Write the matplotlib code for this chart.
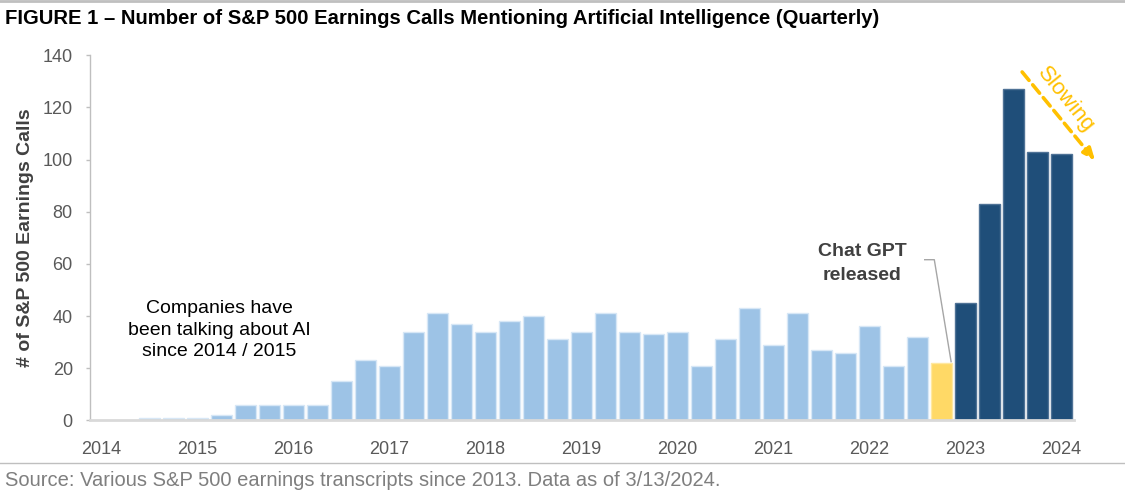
import matplotlib
matplotlib.use("Agg")
import matplotlib.pyplot as plt
import numpy as np

# Quarterly counts, 2014 Q1 .. 2024 Q1
quarters = [f"{y}Q{q}" for y in range(2014, 2025) for q in range(1, 5)][:41]
counts = [0, 0, 1, 1, 1, 2, 6, 6, 6, 6, 15, 23, 21, 34, 41, 37, 34, 38, 40, 31,
          34, 41, 34, 33, 34, 21, 31, 43, 29, 41, 27, 26, 36, 21, 32, 22, 45, 83,
          127, 103, 102]
# period groups: 'pre' (before ChatGPT), 'launch', 'post'
period = ["pre"] * 35 + ["launch"] + ["post"] * 5
year_labels = [str(y) for y in range(2014, 2025)]

colors = {"pre": "#9DC3E6", "launch": "#FFD966", "post": "#1F4E79"}
edges = {"pre": "#D7E7F6", "launch": "#FFE8A0", "post": "#4F7296"}

fig = plt.figure(figsize=(11.25, 4.96), dpi=100)
ax = fig.add_axes([89.5 / 1125, 75.7 / 496, 984 / 1125, 365.0 / 496])

x = np.arange(len(counts))
ax.bar(x, counts, width=0.84,
       color=[colors[p] for p in period],
       edgecolor=[edges[p] for p in period],
       linewidth=[1.0 if c > 0 else 0 for c in counts], zorder=2)

ax.set_xlim(-0.5, len(counts) - 0.5)
ax.set_ylim(0, 140)
ax.set_yticks(np.arange(0, 141, 20))
ax.set_xticks(np.arange(0, len(counts), 4))
ax.set_xticklabels(year_labels)

for s in ["top", "right"]:
    ax.spines[s].set_visible(False)
ax.spines["left"].set_color("#BFBFBF")
ax.spines["left"].set_linewidth(1.0)
ax.spines["bottom"].set_color("#D9D9D9")
ax.spines["bottom"].set_linewidth(2.0)

lab_font = ["Liberation Sans", "DejaVu Sans"]
ax.tick_params(axis="y", length=3, width=1, color="#BFBFBF", labelsize=13,
               labelcolor="#595959", pad=9)
ax.tick_params(axis="x", length=0, labelsize=13, labelcolor="#595959", pad=15)
for lbl in ax.get_xticklabels() + ax.get_yticklabels():
    lbl.set_family(lab_font)

ax.set_ylabel("# of S&P 500 Earnings Calls", fontsize=14, fontweight="bold",
              color="#404040", family=lab_font, labelpad=6)

# Annotations
ax.text(4.92, 34.6, "Companies have\nbeen talking about AI\nsince 2014 / 2015",
        ha="center", va="center", fontsize=14.0, color="#000000",
        family=lab_font, linespacing=1.33)

ax.text(31.7, 60.1, "Chat GPT\nreleased", ha="center", va="center",
        fontsize=14, fontweight="bold", color="#404040", family=lab_font,
        linespacing=1.5)
ax.plot([34.3, 34.7, 35.4], [61.6, 61.6, 22.5], color="#A6A6A6", lw=1.0,
        zorder=3, clip_on=False)

# Slowing arrow
ax.annotate("", xy=(41.4, 99.6), xytext=(38.36, 133.6),
            arrowprops=dict(arrowstyle="-|>,head_length=0.7,head_width=0.3",
                            color="#FFC000", lw=2.6, linestyle=(0, (3, 1.6)),
                            shrinkA=0, shrinkB=0),
            annotation_clip=False)
ax.text(40.17, 122.9, "Slowing", rotation=-51, ha="center", va="center",
        fontsize=16, color="#FFC000", family=lab_font, rotation_mode="anchor")

# Title, source, rule lines
title_font = ["Liberation Sans", "DejaVu Sans"]
fig.text(5 / 1125, 1 - 18 / 496,
         "FIGURE 1 \u2013 Number of S&P 500 Earnings Calls Mentioning Artificial Intelligence (Quarterly)",
         ha="left", va="center", fontsize=14.6, fontweight="bold", color="#000000",
         family=title_font)
fig.text(5 / 1125, 1 - 480 / 496,
         "Source: Various S&P 500 earnings transcripts since 2013. Data as of 3/13/2024.",
         ha="left", va="center", fontsize=14.5, color="#7F7F7F", family=title_font)

fig.add_artist(plt.Line2D([0, 1], [1 - 1 / 496, 1 - 1 / 496], color="#BFBFBF", lw=2.0))
fig.add_artist(plt.Line2D([0, 1], [1 - 463 / 496, 1 - 463 / 496], color="#BFBFBF", lw=1.0))

fig.savefig("out.png", dpi=100)
